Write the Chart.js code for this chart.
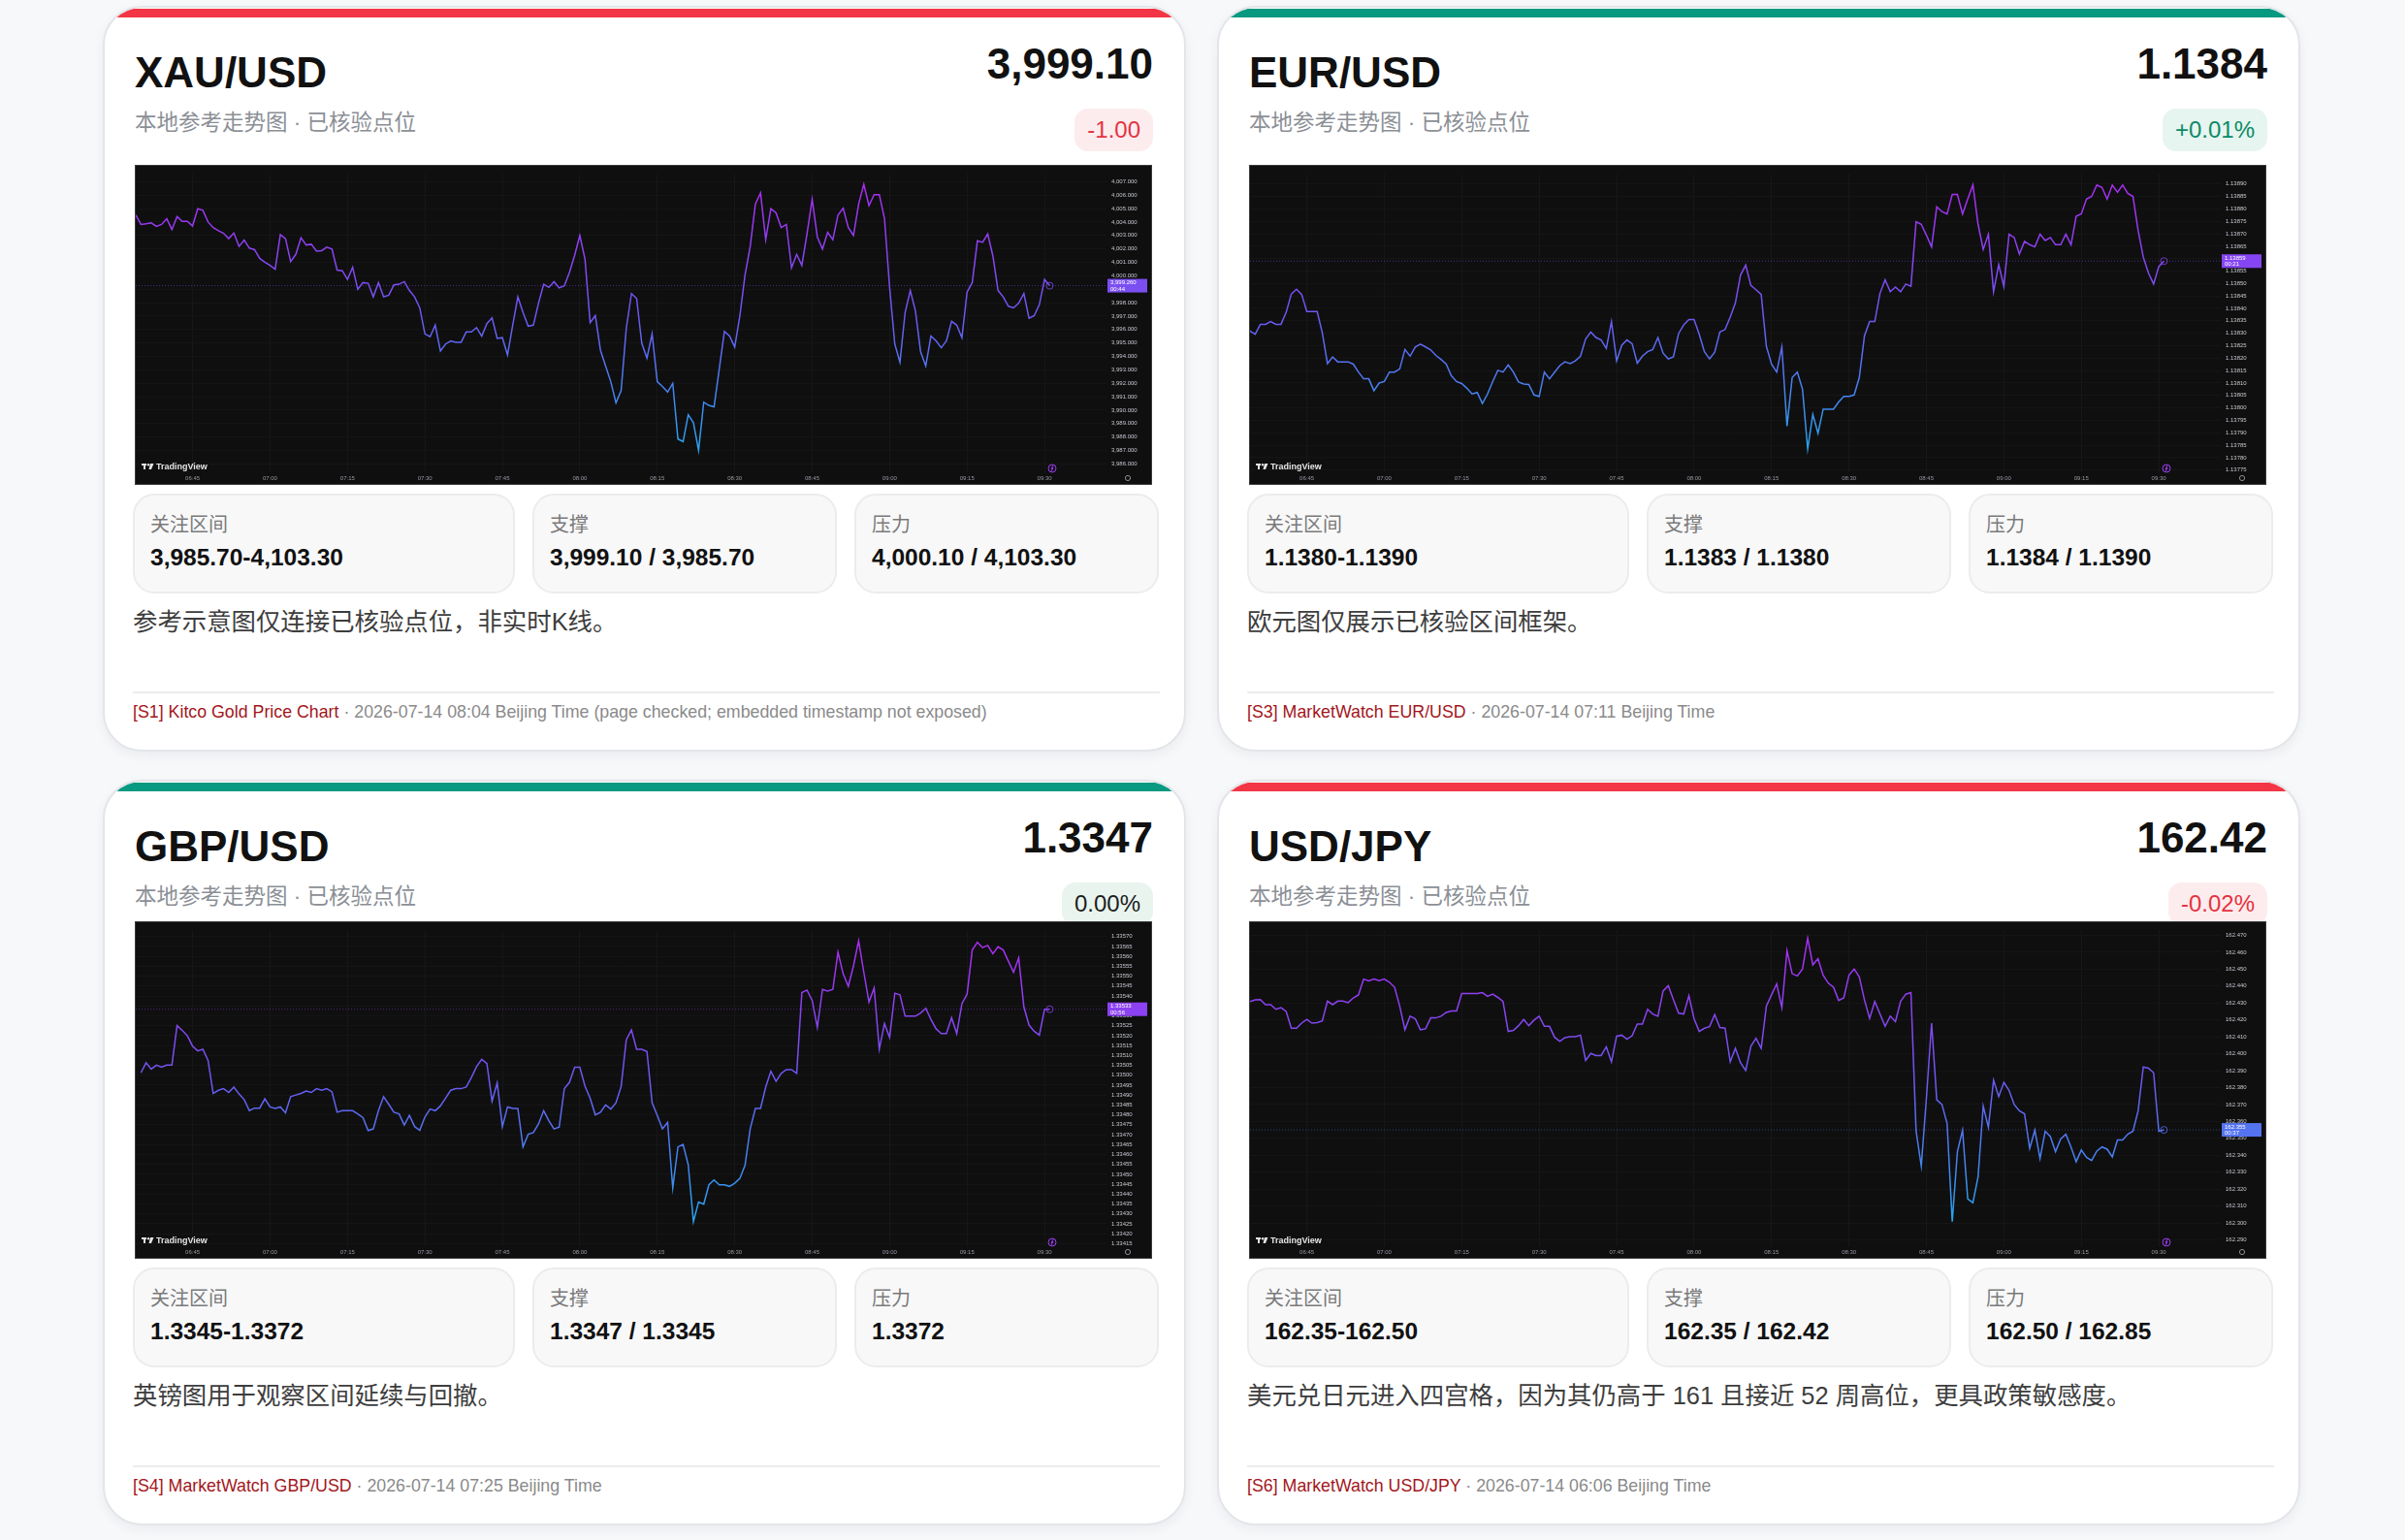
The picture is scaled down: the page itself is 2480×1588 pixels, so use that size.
<!DOCTYPE html>
<html lang="zh-CN">
<head>
<meta charset="utf-8">
<title>外汇与黄金参考走势</title>
<script src="https://cdn.jsdelivr.net/npm/chart.js@4.4.1/dist/chart.umd.min.js"></script>
<style>
  html, body { margin: 0; padding: 0; }
  body {
    width: 2480px; height: 1588px; position: relative; overflow: hidden;
    background: #f7f8fa;
    font-family: "Liberation Sans", Arial, "Noto Sans CJK SC", sans-serif;
  }
  .card {
    position: absolute; width: 1117px; height: 769px; box-sizing: border-box;
    background: #fff; border: 2px solid #e3e5e9; border-radius: 40px; overflow: hidden;
    box-shadow: 0 4px 12px rgba(20, 30, 50, 0.06);
  }
  .bar { position: absolute; left: 0; right: 0; top: 1px; height: 9px; }
  .red .bar { background: #f23645; }
  .green .bar { background: #089981; }
  .title { position: absolute; left: 31px; top: 45px; font-size: 44px; line-height: 44px; font-weight: 700; color: #111; }
  .price { position: absolute; right: 32px; top: 36px; font-size: 44px; line-height: 44px; font-weight: 700; color: #111; }
  .sub { position: absolute; left: 31px; top: 107px; font-size: 22.5px; line-height: 24px; color: #8b8f96; }
  .badge { position: absolute; right: 32px; top: 104px; height: 44px; line-height: 44px; padding: 0 13px; border-radius: 14px; font-size: 24px; }
  .badge.down { background: #fdecee; color: #e5323f; }
  .badge.up { background: #e6f5ef; color: #0b8a67; }
  .badge.flat { background: #e9f4ef; color: #1d1d1d; }
  .chart { position: absolute; left: 31px; width: 1049px; background: #0f0f0f; border: 1px solid #3a3a3a; box-sizing: border-box; }
  .row1 .chart { top: 162px; height: 330px; }
  .row2 .chart { top: 144px; height: 348px; }
  .stats { position: absolute; left: 29px; top: 501px; display: grid; grid-template-columns: 394px 314px 314px; column-gap: 18px; }
  .stat { height: 103px; box-sizing: border-box; background: #f8f8f9; border: 2px solid #ececee; border-radius: 22px; padding: 20px 0 0 16px; }
  .stat .k { font-size: 20px; line-height: 20px; color: #7a7a7a; }
  .stat .v { margin-top: 12px; font-size: 24.5px; line-height: 24px; font-weight: 700; color: #111; }
  .note { position: absolute; left: 29px; top: 620px; font-size: 25.4px; line-height: 26px; color: #3d3d3d; }
  .rule { position: absolute; left: 29px; top: 705px; width: 1059px; height: 2px; background: #ececec; }
  .src { position: absolute; left: 29px; top: 717px; font-size: 17.8px; line-height: 18px; color: #8a8a8a; }
  .src b { font-weight: 400; color: #a3161b; }
</style>
</head>
<body>

<div class="card red row1" style="left:106px; top:6px;">
  <div class="bar"></div>
  <div class="title">XAU/USD</div>
  <div class="price">3,999.10</div>
  <div class="sub">本地参考走势图 · 已核验点位</div>
  <div class="badge down">-1.00</div>
  <div class="chart"><canvas id="xauChart"></canvas></div>
  <div class="stats">
    <div class="stat"><div class="k">关注区间</div><div class="v">3,985.70-4,103.30</div></div>
    <div class="stat"><div class="k">支撑</div><div class="v">3,999.10 / 3,985.70</div></div>
    <div class="stat"><div class="k">压力</div><div class="v">4,000.10 / 4,103.30</div></div>
  </div>
  <div class="note">参考示意图仅连接已核验点位，非实时K线。</div>
  <div class="rule"></div>
  <div class="src"><b>[S1] Kitco Gold Price Chart</b> · 2026-07-14 08:04 Beijing Time (page checked; embedded timestamp not exposed)</div>
</div>

<div class="card green row1" style="left:1255px; top:6px;">
  <div class="bar"></div>
  <div class="title">EUR/USD</div>
  <div class="price">1.1384</div>
  <div class="sub">本地参考走势图 · 已核验点位</div>
  <div class="badge up">+0.01%</div>
  <div class="chart"><canvas id="eurChart"></canvas></div>
  <div class="stats">
    <div class="stat"><div class="k">关注区间</div><div class="v">1.1380-1.1390</div></div>
    <div class="stat"><div class="k">支撑</div><div class="v">1.1383 / 1.1380</div></div>
    <div class="stat"><div class="k">压力</div><div class="v">1.1384 / 1.1390</div></div>
  </div>
  <div class="note">欧元图仅展示已核验区间框架。</div>
  <div class="rule"></div>
  <div class="src"><b>[S3] MarketWatch EUR/USD</b> · 2026-07-14 07:11 Beijing Time</div>
</div>

<div class="card green row2" style="left:106px; top:804px;">
  <div class="bar"></div>
  <div class="title">GBP/USD</div>
  <div class="price">1.3347</div>
  <div class="sub">本地参考走势图 · 已核验点位</div>
  <div class="badge flat">0.00%</div>
  <div class="chart"><canvas id="gbpChart"></canvas></div>
  <div class="stats">
    <div class="stat"><div class="k">关注区间</div><div class="v">1.3345-1.3372</div></div>
    <div class="stat"><div class="k">支撑</div><div class="v">1.3347 / 1.3345</div></div>
    <div class="stat"><div class="k">压力</div><div class="v">1.3372</div></div>
  </div>
  <div class="note">英镑图用于观察区间延续与回撤。</div>
  <div class="rule"></div>
  <div class="src"><b>[S4] MarketWatch GBP/USD</b> · 2026-07-14 07:25 Beijing Time</div>
</div>

<div class="card red row2" style="left:1255px; top:804px;">
  <div class="bar"></div>
  <div class="title">USD/JPY</div>
  <div class="price">162.42</div>
  <div class="sub">本地参考走势图 · 已核验点位</div>
  <div class="badge down">-0.02%</div>
  <div class="chart"><canvas id="jpyChart"></canvas></div>
  <div class="stats">
    <div class="stat"><div class="k">关注区间</div><div class="v">162.35-162.50</div></div>
    <div class="stat"><div class="k">支撑</div><div class="v">162.35 / 162.42</div></div>
    <div class="stat"><div class="k">压力</div><div class="v">162.50 / 162.85</div></div>
  </div>
  <div class="note">美元兑日元进入四宫格，因为其仍高于 161 且接近 52 周高位，更具政策敏感度。</div>
  <div class="rule"></div>
  <div class="src"><b>[S6] MarketWatch USD/JPY</b> · 2026-07-14 06:06 Beijing Time</div>
</div>

<script>
// time axis (one point per minute, last bar at 09:31)
const timeLabels = ['06:45', '07:00', '07:15', '07:30', '07:45', '08:00', '08:15', '08:30', '08:45', '09:00', '09:15', '09:30'];
const lastBarTime = '09:31';

// XAU/USD
const xauValues = [
  4004.52, 4003.82, 4003.86, 4003.93, 4003.68, 4003.82, 4004.24, 4003.44, 4004.40, 4004.05,
  4004.05, 4003.70, 4004.99, 4004.87, 4004.00, 4003.58, 4003.35, 4003.16, 4002.76, 4003.18,
  4002.18, 4002.65, 4002.06, 4001.94, 4001.29, 4001.01, 4000.77, 4000.49, 4003.07, 4002.76,
  4001.05, 4001.59, 4002.83, 4002.29, 4002.34, 4001.83, 4001.87, 4002.13, 4001.99, 4000.42,
  4000.37, 3999.72, 4000.63, 3998.99, 3999.49, 3999.44, 3998.43, 3999.49, 3998.43, 3998.55,
  3999.32, 3999.37, 3999.56, 3998.90, 3998.43, 3997.61, 3995.67, 3995.46, 3996.32, 3994.40,
  3994.92, 3995.15, 3995.04, 3995.04, 3995.81, 3995.81, 3996.14, 3995.51, 3996.44, 3996.86,
  3995.34, 3995.39, 3994.10, 3996.32, 3998.43, 3997.26, 3996.25, 3996.32, 3997.96, 3999.37,
  3999.13, 3999.56, 3999.09, 3999.25, 4000.26, 4001.52, 4003.00, 4001.24, 3996.51, 3997.03,
  3994.45, 3993.28, 3992.11, 3990.54, 3991.45, 3996.09, 3998.67, 3998.31, 3994.97, 3993.87,
  3995.67, 3992.11, 3991.76, 3991.34, 3991.99, 3987.85, 3987.66, 3989.65, 3989.07, 3987.01,
  3990.59, 3990.35, 3990.24, 3993.05, 3995.86, 3995.51, 3994.69, 3997.03, 4000.07, 4002.18,
  4005.34, 4006.16, 4002.69, 4004.99, 4004.68, 4003.58, 4003.82, 4000.59, 4001.59, 4000.77,
  4003.11, 4005.69, 4002.88, 4001.99, 4003.23, 4002.69, 4004.52, 4005.03, 4003.58, 4003.00,
  4005.34, 4006.81, 4005.22, 4006.04, 4006.04, 4004.28, 3999.13, 3994.92, 3993.56, 3997.26,
  3998.90, 3997.38, 3994.33, 3993.28, 3995.51, 3995.15, 3994.64, 3995.15, 3996.61, 3996.32,
  3995.39, 3998.78, 3999.49, 4002.60, 4002.48, 4003.11, 4001.47, 3998.90, 3998.43, 3997.73,
  3997.61, 3997.96, 3998.67, 3996.84, 3997.03, 3997.85, 3999.72, 3999.26
];
const xauYTicks = [4007, 4006, 4005, 4004, 4003, 4002, 4001, 4000, 3999, 3998, 3997,
  3996, 3995, 3994, 3993, 3992, 3991, 3990, 3989, 3988, 3987, 3986];

// EUR/USD
const eurValues = [
  1.138336, 1.138309, 1.138296, 1.138336, 1.138336, 1.138347, 1.138336, 1.138336, 1.138384, 1.138458,
  1.138477, 1.138456, 1.138387, 1.138387, 1.138387, 1.138302, 1.138178, 1.138205, 1.138185, 1.138185,
  1.138185, 1.138176, 1.138144, 1.138117, 1.138117, 1.138069, 1.138100, 1.138106, 1.138144, 1.138144,
  1.138157, 1.138235, 1.138208, 1.138245, 1.138256, 1.138245, 1.138233, 1.138211, 1.138195, 1.138176,
  1.138129, 1.138106, 1.138098, 1.138079, 1.138056, 1.138062, 1.138018, 1.138056, 1.138106, 1.138151,
  1.138144, 1.138173, 1.138144, 1.138104, 1.138096, 1.138094, 1.138052, 1.138046, 1.138144, 1.138117,
  1.138144, 1.138170, 1.138185, 1.138178, 1.138189, 1.138208, 1.138277, 1.138305, 1.138283, 1.138273,
  1.138239, 1.138347, 1.138189, 1.138252, 1.138273, 1.138258, 1.138180, 1.138208, 1.138226, 1.138235,
  1.138283, 1.138220, 1.138197, 1.138205, 1.138299, 1.138334, 1.138355, 1.138355, 1.138296, 1.138226,
  1.138197, 1.138224, 1.138305, 1.138315, 1.138365, 1.138422, 1.138534, 1.138574, 1.138492, 1.138475,
  1.138456, 1.138248, 1.138176, 1.138144, 1.138245, 1.137927, 1.138122, 1.138144, 1.138075, 1.137835,
  1.137974, 1.137898, 1.137995, 1.137995, 1.137995, 1.138024, 1.138046, 1.138046, 1.138052, 1.138122,
  1.138290, 1.138347, 1.138347, 1.138460, 1.138515, 1.138467, 1.138486, 1.138467, 1.138498, 1.138489,
  1.138748, 1.138738, 1.138694, 1.138647, 1.138808, 1.138789, 1.138779, 1.138858, 1.138858, 1.138779,
  1.138839, 1.138896, 1.138738, 1.138637, 1.138698, 1.138467, 1.138576, 1.138488, 1.138698, 1.138685,
  1.138618, 1.138669, 1.138656, 1.138647, 1.138698, 1.138673, 1.138685, 1.138656, 1.138656, 1.138698,
  1.138656, 1.138770, 1.138780, 1.138839, 1.138850, 1.138896, 1.138886, 1.138839, 1.138896, 1.138867,
  1.138896, 1.138862, 1.138850, 1.138713, 1.138606, 1.138542, 1.138498, 1.138568, 1.138590
];
const eurYTicks = [1.13890, 1.13885, 1.13880, 1.13875, 1.13870, 1.13865, 1.13860, 1.13855,
  1.13850, 1.13845, 1.13840, 1.13835, 1.13830, 1.13825, 1.13820, 1.13815, 1.13810, 1.13805,
  1.13800, 1.13795, 1.13790, 1.13785, 1.13780, 1.13775];

// GBP/USD
const gbpValues = [
  1.335012, 1.335063, 1.335031, 1.335051, 1.335040, 1.335051, 1.335051, 1.335250, 1.335226, 1.335199,
  1.335147, 1.335123, 1.335131, 1.335075, 1.334908, 1.334924, 1.334932, 1.334913, 1.334940, 1.334905,
  1.334877, 1.334821, 1.334834, 1.334834, 1.334881, 1.334840, 1.334832, 1.334840, 1.334810, 1.334892,
  1.334900, 1.334908, 1.334920, 1.334913, 1.334932, 1.334924, 1.334932, 1.334916, 1.334813, 1.334821,
  1.334821, 1.334821, 1.334805, 1.334786, 1.334721, 1.334729, 1.334821, 1.334892, 1.334853, 1.334813,
  1.334805, 1.334749, 1.334797, 1.334741, 1.334722, 1.334789, 1.334829, 1.334821, 1.334845, 1.334884,
  1.334924, 1.334932, 1.334932, 1.334940, 1.334988, 1.335043, 1.335080, 1.335059, 1.334869, 1.334961,
  1.334741, 1.334840, 1.334832, 1.334832, 1.334638, 1.334702, 1.334710, 1.334754, 1.334821, 1.334770,
  1.334729, 1.334738, 1.334932, 1.334964, 1.335040, 1.335040, 1.334945, 1.334884, 1.334800, 1.334813,
  1.334850, 1.334829, 1.334861, 1.334943, 1.335179, 1.335229, 1.335131, 1.335131, 1.335120, 1.334861,
  1.334797, 1.334729, 1.334761, 1.334431, 1.334638, 1.334651, 1.334548, 1.334261, 1.334360, 1.334349,
  1.334447, 1.334471, 1.334447, 1.334447, 1.334439, 1.334455, 1.334479, 1.334546, 1.334730, 1.334832,
  1.334832, 1.334940, 1.335020, 1.334969, 1.335009, 1.335028, 1.335028, 1.335009, 1.335417, 1.335430,
  1.335377, 1.335242, 1.335433, 1.335425, 1.335433, 1.335621, 1.335512, 1.335449, 1.335552, 1.335679,
  1.335520, 1.335369, 1.335441, 1.335131, 1.335261, 1.335191, 1.335414, 1.335406, 1.335298, 1.335298,
  1.335298, 1.335314, 1.335338, 1.335282, 1.335234, 1.335210, 1.335210, 1.335290, 1.335210, 1.335361,
  1.335409, 1.335632, 1.335671, 1.335644, 1.335655, 1.335613, 1.335648, 1.335632, 1.335576, 1.335520,
  1.335592, 1.335345, 1.335253, 1.335222, 1.335202, 1.335333, 1.335333
];
const gbpYTicks = [1.33570, 1.33565, 1.33560, 1.33555, 1.33550, 1.33545, 1.33540, 1.33535,
  1.33530, 1.33525, 1.33520, 1.33515, 1.33510, 1.33505, 1.33500, 1.33495, 1.33490, 1.33485,
  1.33480, 1.33475, 1.33470, 1.33465, 1.33460, 1.33455, 1.33450, 1.33445, 1.33440, 1.33435,
  1.33430, 1.33425, 1.33420, 1.33415];

// USD/JPY
const jpyValues = [
  162.4309, 162.4318, 162.4320, 162.4290, 162.4290, 162.4263, 162.4272, 162.4250, 162.4151, 162.4151,
  162.4181, 162.4203, 162.4181, 162.4184, 162.4194, 162.4311, 162.4290, 162.4311, 162.4311, 162.4302,
  162.4330, 162.4348, 162.4441, 162.4430, 162.4441, 162.4432, 162.4441, 162.4423, 162.4393, 162.4281,
  162.4142, 162.4222, 162.4207, 162.4142, 162.4147, 162.4212, 162.4212, 162.4222, 162.4244, 162.4253,
  162.4253, 162.4356, 162.4356, 162.4356, 162.4356, 162.4361, 162.4339, 162.4352, 162.4333, 162.4309,
  162.4132, 162.4138, 162.4166, 162.4203, 162.4166, 162.4199, 162.4222, 162.4162, 162.4162, 162.4097,
  162.4073, 162.4095, 162.4101, 162.4101, 162.4110, 162.3961, 162.4002, 162.3989, 162.3989, 162.4041,
  162.3952, 162.4104, 162.4110, 162.4086, 162.4106, 162.4175, 162.4175, 162.4263, 162.4235, 162.4222,
  162.4371, 162.4402, 162.4320, 162.4240, 162.4235, 162.4343, 162.4207, 162.4132, 162.4151, 162.4160,
  162.4231, 162.4155, 162.4151, 162.3952, 162.4032, 162.3946, 162.3901, 162.4045, 162.4091, 162.4032,
  162.4281, 162.4348, 162.4413, 162.4272, 162.4609, 162.4473, 162.4460, 162.4501, 162.4683, 162.4525,
  162.4562, 162.4464, 162.4417, 162.4393, 162.4315, 162.4330, 162.4464, 162.4501, 162.4454, 162.4318,
  162.4209, 162.4309, 162.4235, 162.4162, 162.4222, 162.4190, 162.4309, 162.4352, 162.4361, 162.3542,
  162.3337, 162.3738, 162.4181, 162.3728, 162.3700, 162.3589, 162.3008, 162.3421, 162.3548, 162.3142,
  162.3120, 162.3272, 162.3691, 162.3565, 162.3844, 162.3747, 162.3831, 162.3784, 162.3700, 162.3663,
  162.3645, 162.3440, 162.3548, 162.3380, 162.3542, 162.3511, 162.3421, 162.3496, 162.3524, 162.3449,
  162.3362, 162.3431, 162.3388, 162.3369, 162.3425, 162.3449, 162.3436, 162.3390, 162.3490, 162.3490,
  162.3524, 162.3542, 162.3663, 162.3922, 162.3915, 162.3887, 162.3542, 162.3550
];
const jpyYTicks = [162.47, 162.46, 162.45, 162.44, 162.43, 162.42, 162.41, 162.40, 162.39,
  162.38, 162.37, 162.36, 162.35, 162.34, 162.33, 162.32, 162.31, 162.30, 162.29];

function toMinutes(t) {
  const p = t.split(':');
  return Number(p[0]) * 60 + Number(p[1]);
}
function pad2(n) { return String(n).padStart(2, '0'); }

// purple (high) -> violet -> blue (low)
const gradStops = [[0, [170, 44, 242]], [0.5, [108, 88, 242]], [1, [40, 164, 238]]];
function mixColor(t) {
  t = Math.max(0, Math.min(1, t));
  for (let i = 1; i < gradStops.length; i++) {
    if (t <= gradStops[i][0]) {
      const a = gradStops[i - 1], b = gradStops[i];
      const f = (t - a[0]) / (b[0] - a[0]);
      const c = a[1].map((v, k) => Math.round(v + (b[1][k] - v) * f));
      return 'rgb(' + c.join(',') + ')';
    }
  }
  return 'rgb(' + gradStops[gradStops.length - 1][1].join(',') + ')';
}

function lineGradient(context) {
  const chart = context.chart;
  const { ctx, chartArea, scales } = chart;
  if (!chartArea) return '#7a50f0';
  const ys = context.dataset.data.map(p => p.y);
  const top = scales.y.getPixelForValue(Math.max(...ys));
  const bottom = scales.y.getPixelForValue(Math.min(...ys));
  const g = ctx.createLinearGradient(0, top, 0, bottom);
  gradStops.forEach(s => g.addColorStop(s[0], 'rgb(' + s[1].join(',') + ')'));
  return g;
}

function lastColor(chart) {
  const ys = chart.data.datasets[0].data.map(p => p.y);
  const max = Math.max(...ys), min = Math.min(...ys);
  return mixColor((max - ys[ys.length - 1]) / (max - min));
}

// TradingView-like decorations: price line, tag, logo, icons
const tvDecor = {
  id: 'tvDecor',
  afterDatasetsDraw(chart) {
    const { ctx, chartArea: a, scales: { x, y } } = chart;
    const pts = chart.data.datasets[0].data;
    const last = pts[pts.length - 1];
    const px = x.getPixelForValue(last.x), py = y.getPixelForValue(last.y);
    const col = lastColor(chart);
    ctx.save();
    ctx.strokeStyle = col;
    ctx.globalAlpha = 0.5;
    ctx.lineWidth = 1;
    ctx.setLineDash([1, 2]);
    ctx.beginPath();
    ctx.moveTo(a.left, py);
    ctx.lineTo(a.right, py);
    ctx.stroke();
    ctx.setLineDash([]);
    ctx.globalAlpha = 0.8;
    ctx.beginPath();
    ctx.arc(px, py, 3.5, 0, Math.PI * 2);
    ctx.stroke();

    // logo
    ctx.globalAlpha = 1;
    const lx = a.left + 6, ly = a.bottom - 3;
    ctx.fillStyle = '#e4e4e4';
    ctx.fillRect(lx, ly - 6, 5, 2);
    ctx.fillRect(lx + 2, ly - 6, 2, 6);
    ctx.beginPath();
    ctx.arc(lx + 7, ly - 4.8, 1.2, 0, Math.PI * 2);
    ctx.fill();
    ctx.beginPath();
    ctx.moveTo(lx + 9, ly - 6);
    ctx.lineTo(lx + 12.5, ly - 6);
    ctx.lineTo(lx + 10, ly);
    ctx.lineTo(lx + 7.5, ly);
    ctx.closePath();
    ctx.fill();
    ctx.font = '600 9px "Liberation Sans", Arial, sans-serif';
    ctx.textBaseline = 'alphabetic';
    ctx.textAlign = 'left';
    ctx.fillText('TradingView', lx + 15, ly);

    // lightning icon
    ctx.strokeStyle = '#9c3cf0';
    ctx.lineWidth = 1;
    ctx.beginPath();
    ctx.arc(a.right - 56, a.bottom - 4, 4, 0, Math.PI * 2);
    ctx.stroke();
    ctx.beginPath();
    ctx.moveTo(a.right - 55, a.bottom - 7);
    ctx.lineTo(a.right - 57, a.bottom - 3.5);
    ctx.lineTo(a.right - 55, a.bottom - 4.5);
    ctx.lineTo(a.right - 57, a.bottom - 1);
    ctx.stroke();
    ctx.restore();
  },
  afterDraw(chart, args, opts) {
    const { ctx, chartArea: a, scales: { y } } = chart;
    const pts = chart.data.datasets[0].data;
    const last = pts[pts.length - 1];
    const py = y.getPixelForValue(last.y);
    ctx.save();
    ctx.fillStyle = lastColor(chart);
    ctx.fillRect(a.right + 1, py - 7, 41, 14);
    ctx.fillStyle = '#ffffff';
    ctx.font = '6px "Liberation Sans", Arial, sans-serif';
    ctx.textAlign = 'left';
    ctx.textBaseline = 'middle';
    ctx.fillText(opts.fmt(last.y), a.right + 4, py - 3);
    ctx.fillText(opts.countdown, a.right + 4, py + 3.5);
    // settings icon on the axis corner
    ctx.strokeStyle = '#8a8d94';
    ctx.beginPath();
    ctx.arc(a.right + 22, chart.height - 6, 2.6, 0, Math.PI * 2);
    ctx.stroke();
    ctx.restore();
  }
};

const fmtGold = v => v.toLocaleString('en-US', { minimumFractionDigits: 3, maximumFractionDigits: 3 });
const fmt5 = v => v.toFixed(5);
const fmt3 = v => v.toFixed(3);

function makeChart(id, values, yTicks, yMin, yMax, fmt, countdown) {
  const end = toMinutes(lastBarTime);
  const start = end - (values.length - 1);
  const points = values.map((v, i) => ({ x: start + i, y: v }));
  const timeTicks = timeLabels.map(toMinutes);

  return new Chart(document.getElementById(id), {
    type: 'line',
    data: {
      datasets: [{
        data: points,
        borderColor: lineGradient,
        borderWidth: 1.5,
        pointRadius: 0,
        tension: 0,
        fill: false
      }]
    },
    options: {
      responsive: true,
      maintainAspectRatio: false,
      animation: false,
      layout: { padding: 0 },
      plugins: {
        legend: { display: false },
        tooltip: { enabled: false },
        tvDecor: { fmt: fmt, countdown: countdown }
      },
      scales: {
        x: {
          type: 'linear',
          min: 394,
          max: 582,
          afterBuildTicks: function(scale) {
            scale.ticks = timeTicks.map(v => ({ value: v }));
          },
          afterFit: function(scale) { scale.height = 12; },
          ticks: {
            autoSkip: false,
            maxRotation: 0,
            padding: 3,
            color: '#9598a1',
            font: { size: 6, family: '"Liberation Sans", Arial, sans-serif' },
            callback: function(v) { return pad2(Math.floor(v / 60)) + ':' + pad2(v % 60); }
          },
          grid: { color: '#171717', drawTicks: false },
          border: { display: false }
        },
        y: {
          position: 'right',
          min: yMin,
          max: yMax,
          afterBuildTicks: function(scale) {
            scale.ticks = yTicks.map(v => ({ value: v }));
          },
          afterFit: function(scale) { scale.width = 46; },
          ticks: {
            autoSkip: false,
            padding: 5,
            color: '#c3c6ce',
            font: { size: 6, family: '"Liberation Sans", Arial, sans-serif' },
            callback: function(v) { return fmt(v); }
          },
          grid: { color: '#151515', drawTicks: false },
          border: { display: false }
        }
      }
    },
    plugins: [tvDecor]
  });
}

makeChart('xauChart', xauValues, xauYTicks, 3985.37, 4007.56, fmtGold, '00:44');
makeChart('eurChart', eurValues, eurYTicks, 1.1377413, 1.1389394, fmt5, '00:21');
makeChart('gbpChart', gbpValues, gbpYTicks, 1.3341371, 1.3357300, fmt5, '00:56');
makeChart('jpyChart', jpyValues, jpyYTicks, 162.28626, 162.47279, fmt3, '00:37');
</script>
</body>
</html>
